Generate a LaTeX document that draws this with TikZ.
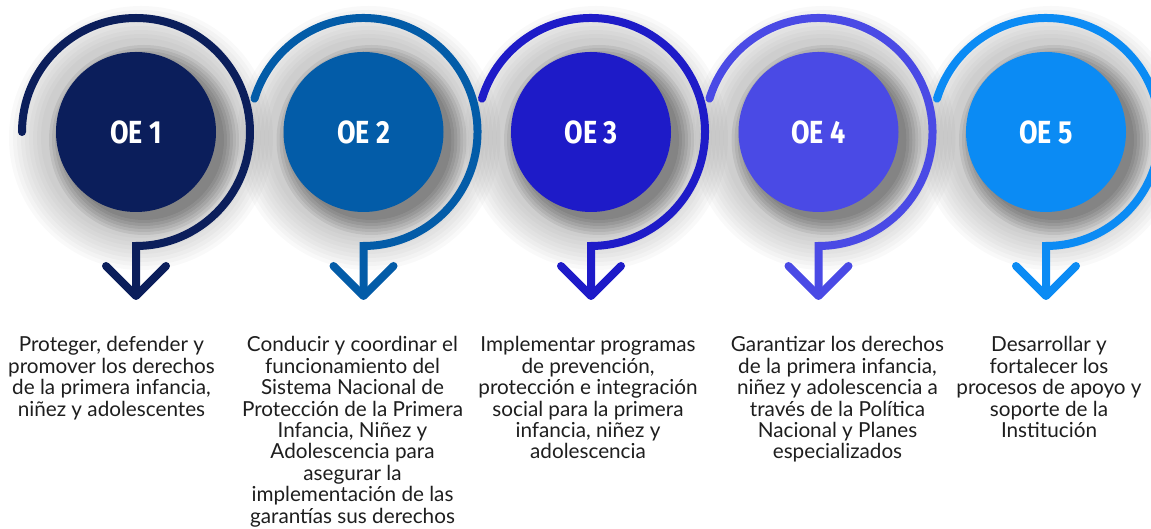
\documentclass[tikz,border=0pt]{standalone}
\usepackage{fontspec}
\setmainfont{Lato}
\newfontfamily\oefont{Fira Sans}[FakeStretch=0.84]
\usetikzlibrary{arrows.meta}
\definecolor{oeA}{RGB}{11,30,91}
\definecolor{oeB}{RGB}{3,92,168}
\definecolor{oeC}{RGB}{30,27,200}
\definecolor{oeD}{RGB}{74,74,229}
\definecolor{oeE}{RGB}{11,139,244}
\definecolor{txt}{RGB}{30,30,30}
\begin{document}
\begin{tikzpicture}[x=1pt,y=1pt,
    oe/.style={circle,minimum size=160pt,inner sep=0pt,text=white,
        font=\oefont\bfseries\fontsize{32}{32}\selectfont},
    ring/.style={line width=8pt,line cap=round,
        -{Straight Barb[length=30pt,width=60pt,round]}},
    goal/.style={anchor=north,align=center,inner sep=0pt,text=txt,
        font=\fontsize{20.7}{21.4}\selectfont}]
    \useasboundingbox (0,0) rectangle (1151,529);
    \coordinate (C1) at (136,397);
    \coordinate (C2) at (363.5,397);
    \coordinate (C3) at (591,397);
    \coordinate (C4) at (818.5,397);
    \coordinate (C5) at (1046,397);
    \coordinate (a1) at (136,229);
    \coordinate (a2) at (363.5,229);
    \coordinate (a3) at (591,229);
    \coordinate (a4) at (818.5,229);
    \coordinate (a5) at (1046,229);

    % soft shadows
    \foreach \c in {C1,C2,C3,C4,C5}{
        \foreach \r in {100,104,...,132}
            \fill[black,opacity=0.024] ([shift={(5,-6)}]\c) circle (\r);
        \foreach \r in {80,83,...,95}
            \fill[black,opacity=0.07] ([shift={(8,-8)}]\c) circle (\r);
    }

    % rings, last one first
    \draw[ring,oeE] ([shift={(163:114)}]C5) arc[start angle=163,end angle=-90,radius=114] -- (a5);
    \draw[ring,oeD] ([shift={(163:114)}]C4) arc[start angle=163,end angle=-90,radius=114] -- (a4);
    \draw[ring,oeC] ([shift={(163:114)}]C3) arc[start angle=163,end angle=-90,radius=114] -- (a3);
    \draw[ring,oeB] ([shift={(163:114)}]C2) arc[start angle=163,end angle=-90,radius=114] -- (a2);
    \draw[ring,oeA] ([shift={(180:114)}]C1) arc[start angle=180,end angle=-90,radius=114] -- (a1);

    \node[oe,fill=oeA] (oe1) at (C1) {OE 1};
    \node[oe,fill=oeB] (oe2) at (C2) {OE 2};
    \node[oe,fill=oeC] (oe3) at (C3) {OE 3};
    \node[oe,fill=oeD] (oe4) at (C4) {OE 4};
    \node[oe,fill=oeE] (oe5) at (C5) {OE 5};

    \node[goal] (t1) at (111.5,192.5) {Proteger, defender y\\promover los derechos\\de la primera infancia,\\niñez y adolescentes};
    \node[goal] (t2) at (352.5,192.5) {Conducir y coordinar el\\funcionamiento del\\Sistema Nacional de\\Protección de la Primera\\Infancia, Niñez y\\Adolescencia para\\asegurar la\\implementación de las\\garantías sus derechos};
    \node[goal] (t3) at (588,192.5) {Implementar programas\\de prevención,\\protección e integración\\social para la primera\\infancia, niñez y\\adolescencia};
    \node[goal] (t4) at (837.5,192.5) {Garantizar los derechos\\de la primera infancia,\\niñez y adolescencia a\\través de la Política\\Nacional y Planes\\especializados};
    \node[goal] (t5) at (1049,192.5) {Desarrollar y\\fortalecer los\\procesos de apoyo y\\soporte de la\\Institución};
\end{tikzpicture}
\end{document}
